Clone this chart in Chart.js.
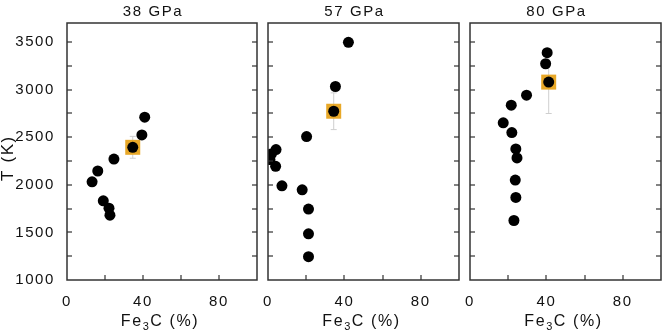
<!DOCTYPE html>
<html>
<head>
<meta charset="utf-8">
<script src="https://cdn.jsdelivr.net/npm/chart.js@4"></script>
<style>
  html, body { margin: 0; padding: 0; background: #fff; }
  #wrap { position: relative; width: 662px; height: 331px; overflow: hidden; }
  .panel { position: absolute; top: 0; height: 331px; }
</style>
</head>
<body>
<div id="wrap">
  <div class="panel" style="left:0;width:262px"><canvas id="c38"></canvas></div>
  <div class="panel" style="left:262px;width:200px"><canvas id="c57"></canvas></div>
  <div class="panel" style="left:464px;width:198px"><canvas id="c80"></canvas></div>
</div>
<script>
// datos
const pressures = ["38 GPa", "57 GPa", "80 GPa"];

const fe3c38 = [40.9, 39.4, 24.7, 16.2, 13.2, 19.1, 22.1, 22.6];
const temp38 = [2710, 2524, 2271, 2145, 2032, 1832, 1755, 1681];

const fe3c57 = [42.1, 35.3, 20.2, 4.2, 1.8, 1.0, 4.0, 7.3, 17.9, 21.2, 21.2, 21.2];
const temp57 = [3497, 3033, 2507, 2370, 2325, 2265, 2194, 1990, 1948, 1745, 1485, 1245];

const fe3c80 = [40.4, 39.6, 29.6, 21.6, 17.4, 21.9, 24.0, 24.6, 23.7, 24.0, 23.0];
const temp80 = [3388, 3272, 2942, 2837, 2651, 2549, 2377, 2282, 2050, 1867, 1625];

// promedio con barra de error (cuadro naranja)
const meanFe3c = [34.6, 34.4, 41.2];
const meanTemp = [2394, 2773, 3079];
const meanErr = [115, 193, 330];

// marcas de los ejes (las etiquetadas y las intermedias)
const tempTicks = [1000, 1250, 1500, 1750, 2000, 2250, 2500, 2750, 3000, 3250, 3500];
const tempLabels = [1000, 1500, 2000, 2500, 3000, 3500];
const fe3cTicks = [0, 20, 40, 60, 80, 100];
const fe3cLabels = [0, 40, 80];

const FONT = "'Liberation Sans', Arial, Helvetica, sans-serif";

const toPoints = (xs, ys) => xs.map((x, i) => ({ x: x, y: ys[i] }));

// marco, marcas internas y títulos
const overlay = {
    id: "overlay",
    beforeDraw(chart) {
        chart.ctx.letterSpacing = "1.6px";
    },
    afterDraw(chart, args, opts) {
        const { ctx, chartArea, scales } = chart;
        const { left, right, top, bottom } = chartArea;
        const x = scales.x, y = scales.y;
        ctx.save();
        ctx.fillStyle = "#333";
        tempTicks.forEach((v) => {
            if (v <= y.min || v >= y.max) return;
            const py = Math.round(y.getPixelForValue(v));
            ctx.fillRect(left, py - 0.6, 5, 1.2);
            ctx.fillRect(right - 5, py - 0.6, 5, 1.2);
        });
        fe3cTicks.forEach((v) => {
            if (v <= x.min || v >= x.max) return;
            const px = Math.round(x.getPixelForValue(v));
            ctx.fillRect(px - 0.6, bottom - 5, 1.2, 5);
        });
        ctx.strokeStyle = "#333";
        ctx.lineWidth = 1.5;
        ctx.strokeRect(left, top, right - left, bottom - top);

        ctx.fillStyle = "#111";
        ctx.textBaseline = "alphabetic";

        // título del panel
        ctx.font = `15px ${FONT}`;
        ctx.textAlign = "center";
        ctx.fillText(opts.title, (left + right) / 2 - 9, 15.5);

        // Fe3C (%) con subíndice
        ctx.textAlign = "left";
        ctx.font = `16px ${FONT}`;
        const w1 = ctx.measureText("Fe").width;
        const w3 = ctx.measureText("C (%)").width;
        ctx.font = `11px ${FONT}`;
        const w2 = ctx.measureText("3").width;
        const sx = (left + right) / 2 - 2 - (w1 + w2 + w3) / 2;
        ctx.font = `16px ${FONT}`;
        ctx.fillText("Fe", sx, 326);
        ctx.font = `11px ${FONT}`;
        ctx.fillText("3", sx + w1, 330);
        ctx.font = `16px ${FONT}`;
        ctx.fillText("C (%)", sx + w1 + w2, 326);

        if (opts.yTitle) {
            ctx.translate(8, 158);
            ctx.rotate(-Math.PI / 2);
            ctx.textAlign = "center";
            ctx.textBaseline = "middle";
            ctx.font = `17px ${FONT}`;
            ctx.fillText(opts.yTitle, 0, 0);
        }
        ctx.restore();
    }
};

function crearPanel(id, idx, xs, ys, yAxisWidth, padRight, showYLabels) {
    const mx = meanFe3c[idx], mt = meanTemp[idx], me = meanErr[idx];
    new Chart(document.getElementById(id), {
        type: "scatter",
        data: {
            datasets: [
                {
                    data: [{ x: mx, y: mt - me }, { x: mx, y: mt + me }],
                    showLine: true,
                    borderColor: "#cfcfcf",
                    borderWidth: 1,
                    pointStyle: "line",
                    pointRadius: 3,
                    pointBorderColor: "#cfcfcf",
                    pointBorderWidth: 1,
                    order: 3,
                },
                {
                    data: [{ x: mx, y: mt }],
                    pointStyle: "rect",
                    pointRadius: 10.6,
                    backgroundColor: "#E8A828",
                    borderWidth: 0,
                    pointBorderWidth: 0,
                    order: 2,
                },
                {
                    data: toPoints(xs, ys).concat([{ x: mx, y: mt }]),
                    pointRadius: 5.5,
                    backgroundColor: "#000",
                    borderWidth: 0,
                    pointBorderWidth: 0,
                    order: 1,
                },
            ],
        },
        options: {
            responsive: true,
            maintainAspectRatio: false,
            animation: false,
            events: [],
            layout: {
                autoPadding: false,
                padding: { top: 23, right: padRight, left: 0, bottom: 0 },
            },
            plugins: {
                legend: { display: false },
                tooltip: { enabled: false },
                title: { display: false },
                overlay: { title: pressures[idx], yTitle: showYLabels ? "T (K)" : "" },
            },
            scales: {
                x: {
                    type: "linear",
                    min: 0,
                    max: 100,
                    grid: { display: false },
                    border: { display: false },
                    afterBuildTicks: (s) => {
                        s.ticks = fe3cLabels.map((v) => ({ value: v }));
                    },
                    ticks: {
                        autoSkip: false,
                        maxRotation: 0,
                        padding: 5,
                        color: "#111",
                        font: { family: FONT, size: 15 },
                        callback: (v) => String(v),
                    },
                    afterFit: (s) => {
                        s.height = 51;
                        s.paddingLeft = 0;
                        s.paddingRight = 0;
                    },
                },
                y: {
                    type: "linear",
                    min: 1000,
                    max: 3700,
                    grid: { display: false },
                    border: { display: false },
                    afterBuildTicks: (s) => {
                        s.ticks = tempLabels.map((v) => ({ value: v }));
                    },
                    ticks: {
                        autoSkip: false,
                        display: showYLabels,
                        padding: 4,
                        color: "#111",
                        font: { family: FONT, size: 15 },
                        callback: (v) => String(v),
                    },
                    afterFit: (s) => { s.width = yAxisWidth; },
                },
            },
        },
        plugins: [overlay],
    });
}

crearPanel("c38", 0, fe3c38, temp38, 67, 5, true);
crearPanel("c57", 1, fe3c57, temp57, 6, 3, false);
crearPanel("c80", 2, fe3c80, temp80, 6, 1, false);
</script>
</body>
</html>
